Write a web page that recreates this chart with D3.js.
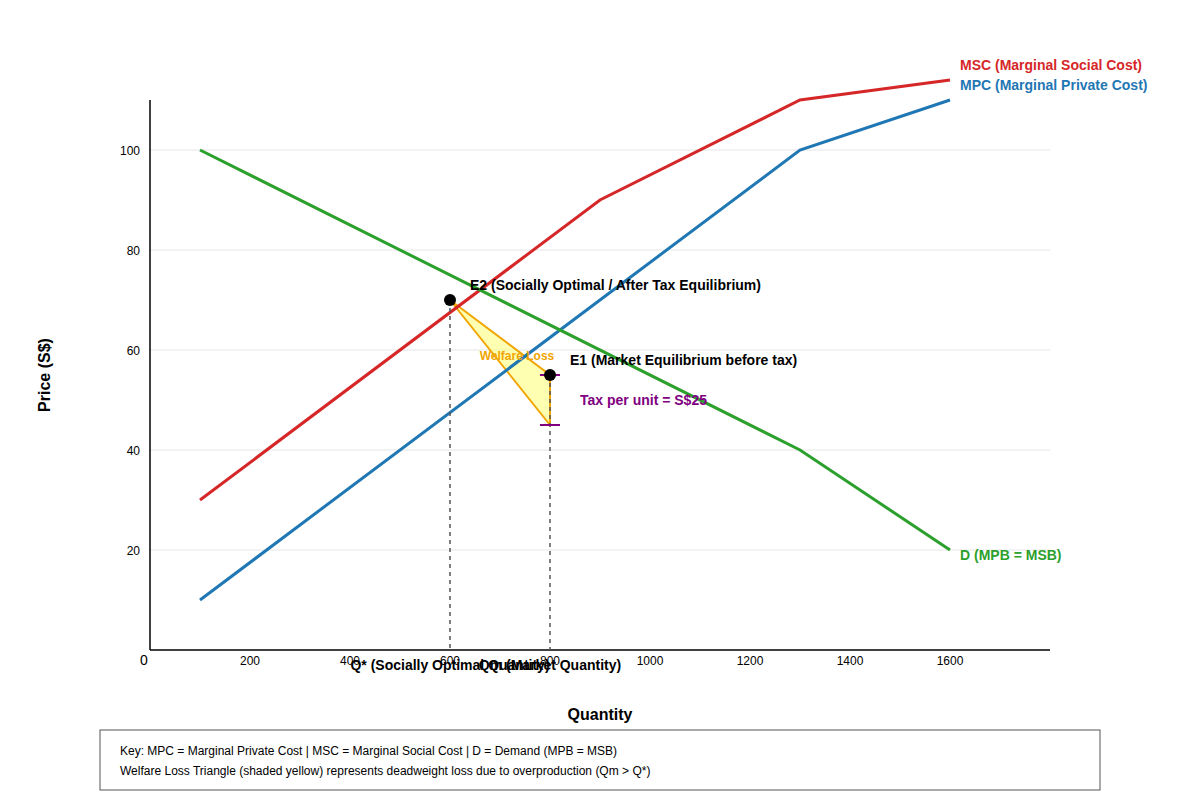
<!DOCTYPE html>
<html><head><meta charset="utf-8">
<script src="https://cdn.jsdelivr.net/npm/d3@7"></script>
<style>body{margin:0;background:#fff;font-family:"Liberation Sans",Arial,sans-serif}</style>
</head><body>
<script>
// curves
const mpc = [[100,10],[1300,100],[1600,110]];
const msc = [[100,30],[900,90],[1300,110],[1600,114]];
const demand = [[100,100],[1300,40],[1600,20]];
const e2 = [600,70], e1 = [800,55], taxLow = [800,45];
const xTicks = [200,400,600,800,1000,1200,1400,1600];
const yTicks = [20,40,60,80,100];

const svg = d3.select("body").append("svg").attr("width",1200).attr("height",800);
const x = d3.scaleLinear().domain([0,1800]).range([150,1050]);
const y = d3.scaleLinear().domain([0,110]).range([650,100]);

// grid
svg.append("g").selectAll("line").data(yTicks).join("line")
  .attr("x1",150).attr("x2",1050).attr("y1",d=>y(d)).attr("y2",d=>y(d))
  .attr("stroke","#e6e6e6");

// axes
svg.append("line").attr("x1",150).attr("x2",150).attr("y1",100).attr("y2",650).attr("stroke","#000").attr("stroke-width",1.5);
svg.append("line").attr("x1",150).attr("x2",1050).attr("y1",650).attr("y2",650).attr("stroke","#000").attr("stroke-width",1.5);
svg.append("g").selectAll("text").data(yTicks).join("text")
  .attr("x",140).attr("y",d=>y(d)+5).attr("text-anchor","end").attr("font-size",12).text(d=>d);
svg.append("g").selectAll("text").data(xTicks).join("text")
  .attr("x",d=>x(d)).attr("y",665).attr("text-anchor","middle").attr("font-size",12).text(d=>d);
svg.append("text").attr("x",144).attr("y",665).attr("text-anchor","middle").attr("font-size",14).text("0");

svg.append("text").attr("x",600).attr("y",720).attr("text-anchor","middle").attr("font-size",16).attr("font-weight","bold").text("Quantity");
svg.append("text").attr("transform","translate(50,375) rotate(-90)").attr("text-anchor","middle").attr("font-size",16).attr("font-weight","bold").text("Price (S$)");

// welfare loss triangle
svg.append("path").attr("d",d3.line().x(d=>x(d[0])).y(d=>y(d[1]))([e2,e1,taxLow])+"Z")
  .attr("fill","#ffff66").attr("fill-opacity",0.5).attr("stroke","#f0a500").attr("stroke-width",2);

const line = d3.line().x(d=>x(d[0])).y(d=>y(d[1]));
[[msc,"#d62728"],[mpc,"#1f77b4"],[demand,"#2ca02c"]].forEach(([d,c])=>{
  svg.append("path").attr("d",line(d)).attr("fill","none").attr("stroke",c).attr("stroke-width",3);
});

// dashed verticals
[e2,e1].forEach(p=>{
  svg.append("line").attr("x1",x(p[0])).attr("x2",x(p[0])).attr("y1",y(p[1])).attr("y2",650)
    .attr("stroke","#555").attr("stroke-dasharray","4,4").attr("stroke-width",1.5);
});

// tax bracket ticks
[55,45].forEach(v=>svg.append("line").attr("x1",x(800)-10).attr("x2",x(800)+10).attr("y1",y(v)).attr("y2",y(v)).attr("stroke","#800080").attr("stroke-width",2));

svg.selectAll("circle.pt").data([e2,e1]).join("circle").attr("cx",d=>x(d[0])).attr("cy",d=>y(d[1])).attr("r",6).attr("fill","#000");

const lbl=(tx,ty,t,c,s,anchor)=>svg.append("text").attr("x",tx).attr("y",ty).attr("fill",c).attr("font-size",s).attr("font-weight","bold").attr("text-anchor",anchor||"start").text(t);
lbl(470,290,"E2 (Socially Optimal / After Tax Equilibrium)","#000",14);
lbl(570,365,"E1 (Market Equilibrium before tax)","#000",14);
lbl(580,405,"Tax per unit = S$25","#800080",14);
lbl(517,360,"Welfare Loss","#f0a500",12,"middle");
lbl(960,70,"MSC (Marginal Social Cost)","#d62728",14);
lbl(960,90,"MPC (Marginal Private Cost)","#1f77b4",14);
lbl(960,560,"D (MPB = MSB)","#2ca02c",14);
lbl(x(600),670,"Q* (Socially Optimal Quantity)","#000",14,"middle");
lbl(x(800),670,"Qm (Market Quantity)","#000",14,"middle");

// key box
svg.append("rect").attr("x",100).attr("y",730).attr("width",1000).attr("height",60).attr("fill","#fff").attr("stroke","#555");
svg.append("text").attr("x",120).attr("y",755).attr("font-size",12).text("Key: MPC = Marginal Private Cost | MSC = Marginal Social Cost | D = Demand (MPB = MSB)");
svg.append("text").attr("x",120).attr("y",775).attr("font-size",12).text("Welfare Loss Triangle (shaded yellow) represents deadweight loss due to overproduction (Qm > Q*)");
</script>
</body></html>
